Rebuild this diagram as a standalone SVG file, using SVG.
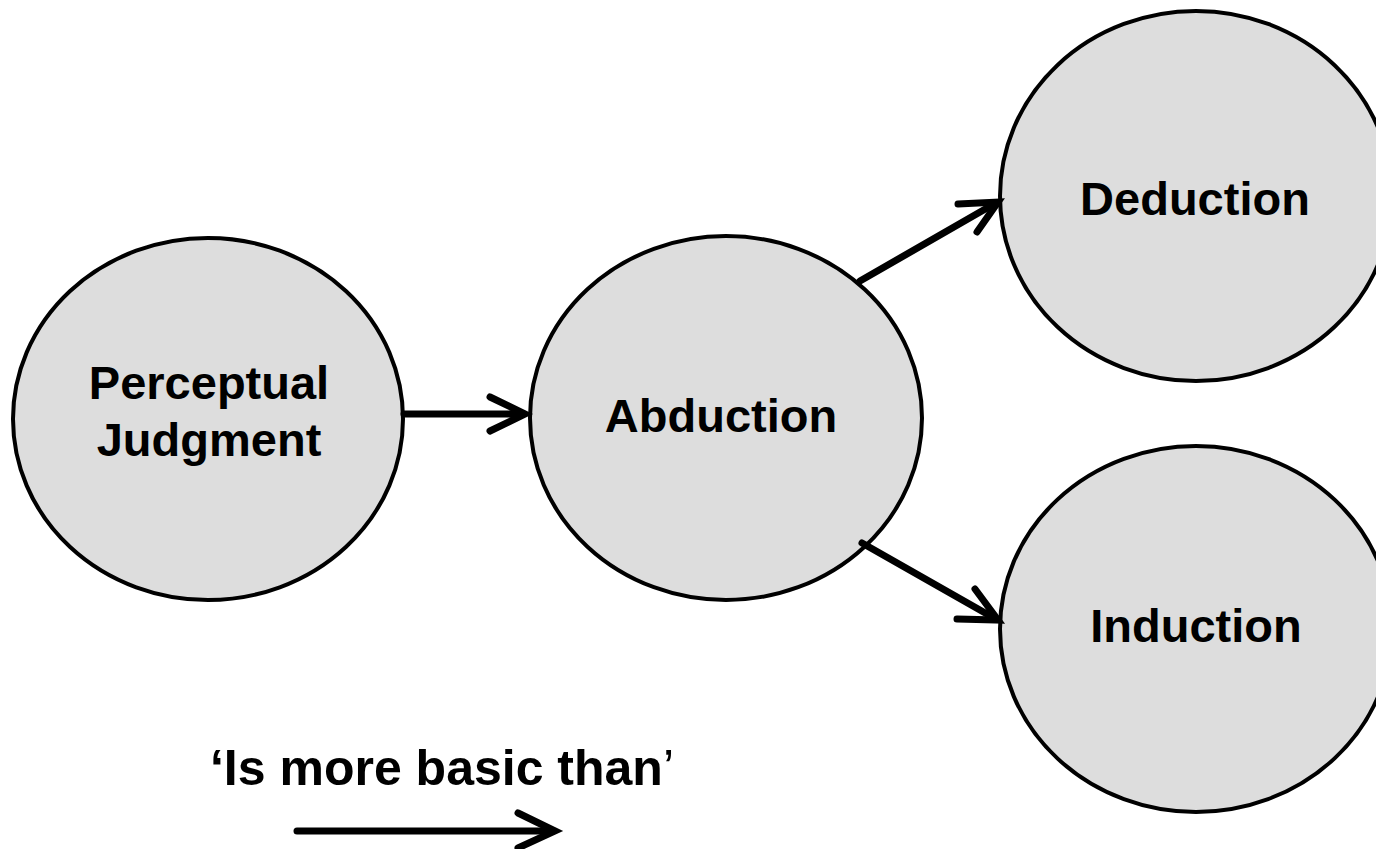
<svg xmlns="http://www.w3.org/2000/svg" width="1376" height="849" viewBox="0 0 1376 849">
<style>
.node{fill:#dddddd;stroke:#000;stroke-width:4}
.lbl{font-family:"Liberation Sans",Arial,sans-serif;font-weight:bold;font-size:47px;fill:#000;text-anchor:middle}
.con{fill:none;stroke:#000;stroke-width:7;stroke-linecap:round;stroke-linejoin:miter}
</style>
<rect width="1376" height="849" fill="#fff"/>
<g id="perceptual">
<ellipse class="node" cx="208" cy="419" rx="195" ry="181"/>
<text class="lbl" x="209" y="399">Perceptual</text>
<text class="lbl" x="209" y="456">Judgment</text>
</g>
<g id="abduction">
<ellipse class="node" cx="726" cy="418" rx="196" ry="182"/>
<text class="lbl" x="721" y="432">Abduction</text>
</g>
<g id="deduction">
<ellipse class="node" cx="1196" cy="196" rx="196" ry="185"/>
<text class="lbl" x="1195" y="215">Deduction</text>
</g>
<g id="induction">
<ellipse class="node" cx="1196" cy="629" rx="196" ry="183"/>
<text class="lbl" x="1196" y="642">Induction</text>
</g>
<g id="connectors">
<line class="con" x1="404" y1="414" x2="522" y2="414"/>
<polyline class="con" points="490,397 525,414 490,431"/>
<line class="con" x1="860" y1="281" x2="994" y2="204"/>
<polyline class="con" points="958,204 998,202 977,232"/>
<line class="con" x1="862" y1="543" x2="994" y2="618"/>
<polyline class="con" points="975,589 998,620 957,619"/>
</g>
<g id="legend">
<text x="442" y="785" style="font-family:'Liberation Sans',Arial,sans-serif;font-weight:bold;font-size:50px;text-anchor:middle">‘Is more basic than<tspan font-weight="normal">’</tspan></text>
<line class="con" x1="297" y1="831" x2="551" y2="831"/>
<polyline class="con" points="518,813 555,831 518,848"/>
</g>
</svg>
